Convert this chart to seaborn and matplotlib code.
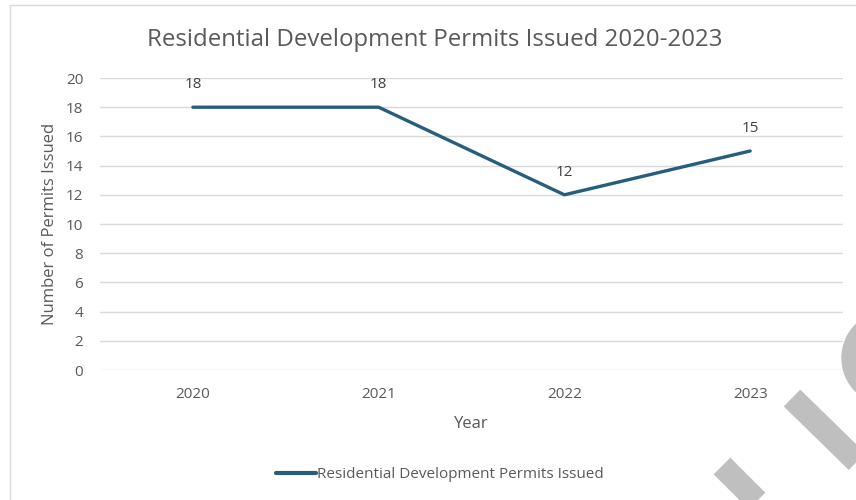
import matplotlib
matplotlib.use("Agg")
import matplotlib.pyplot as plt
from matplotlib.patches import Rectangle, Circle
from matplotlib.lines import Line2D
import seaborn as sns
import pandas as pd

years = ["2020", "2021", "2022", "2023"]
permits = [18, 18, 12, 15]
series_name = "Residential Development Permits Issued"
title = "Residential Development Permits Issued 2020-2023"
y_ticks = [0, 2, 4, 6, 8, 10, 12, 14, 16, 18, 20]

sns.set_style("white")
plt.rcParams["font.family"] = ["Open Sans", "DejaVu Sans"]

W, H = 856, 500
fig = plt.figure(figsize=(W / 100, H / 100), dpi=100)

def fx(px):
    return px / W

def fy(py):
    return 1 - py / H

# chart frame
fig.patches.append(Rectangle((fx(10), fy(510)), fx(870) - fx(10), fy(5) - fy(510),
                             transform=fig.transFigure, fill=False,
                             edgecolor="#D9D9D9", linewidth=1.0, zorder=0))

ax = fig.add_axes([fx(100), fy(370), fx(843) - fx(100), fy(78) - fy(370)])

df = pd.DataFrame({"Year": years, "Permits": permits})
line_color = "#265E7C"
sns.lineplot(data=df, x="Year", y="Permits", ax=ax, color=line_color,
             linewidth=2.4, solid_capstyle="round", sort=False)

ax.set_xlim(-0.5, len(years) - 0.5)
ax.set_ylim(0, 20)
ax.set_yticks(y_ticks)
ax.yaxis.grid(True, color="#D9D9D9", linewidth=1.0)
ax.xaxis.grid(False)
for s in ax.spines.values():
    s.set_visible(False)
ax.tick_params(axis="y", length=0, pad=12, labelsize=11, labelcolor="#595959")
ax.tick_params(axis="x", length=0, pad=12, labelsize=11, labelcolor="#595959")

for i, v in enumerate(permits):
    ax.annotate(str(v), (i, v), xytext=(0, 16), textcoords="offset points",
                ha="center", va="center", fontsize=11, color="#404040")

ax.set_xlabel("Year", fontsize=12, color="#595959", labelpad=10)
ax.set_ylabel("Number of Permits Issued", fontsize=12, color="#595959", labelpad=6)

fig.text(fx(435), fy(40), title, ha="center", va="center", fontsize=17.3,
         color="#595959")

# legend
handle = Line2D([], [], color=line_color, linewidth=3, solid_capstyle="round")
fig.legend([handle], [series_name], loc="center", bbox_to_anchor=(fx(440), fy(475)),
           frameon=False, fontsize=11, handlelength=2.6, handletextpad=0.1,
           labelcolor="#595959")

# grey overlay strokes
grey = "#BFBFBF"
fig.lines.append(Line2D([fx(792), fx(880)], [fy(398), fy(484)], transform=fig.transFigure,
                        color=grey, linewidth=17, solid_capstyle="butt", zorder=5))
fig.lines.append(Line2D([fx(722), fx(770)], [fy(466), fy(514)], transform=fig.transFigure,
                        color=grey, linewidth=17, solid_capstyle="butt", zorder=5))
fig.patches.append(Circle((889, H - 358), 47, transform=None, color=grey, zorder=5))

fig.savefig("out.png", dpi=100)
